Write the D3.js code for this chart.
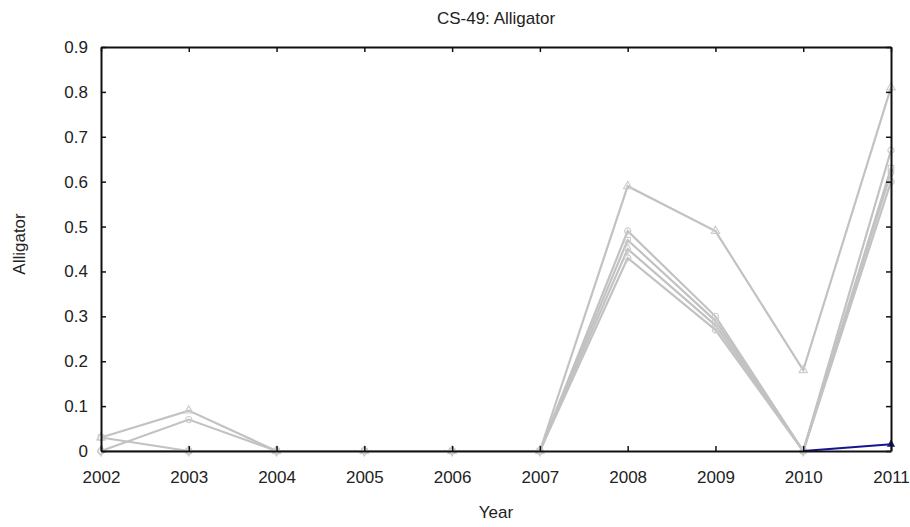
<!DOCTYPE html>
<html>
<head>
<meta charset="utf-8">
<script src="https://cdn.jsdelivr.net/npm/d3@7"></script>
<style>
  body { margin: 0; background: #fff; }
  text { font-family: "Liberation Sans", Arial, sans-serif; fill: #222; }
</style>
</head>
<body>
<div id="chart"></div>
<script>
// years on the x axis
var years = [2002, 2003, 2004, 2005, 2006, 2007, 2008, 2009, 2010, 2011];

// gray series, one value per year
var grayA = [0.03, 0.09, 0, 0, 0, 0, 0.59, 0.49, 0.18, 0.81];
var grayB = [0, 0.07, 0, 0, 0, 0, 0.49, 0.30, 0, 0.67];
var grayC = [0.03, 0, 0, 0, 0, 0, 0.47, 0.29, 0, 0.63];
var grayD = [0, 0, 0, 0, 0, 0, 0.45, 0.28, 0, 0.62];
var grayE = [0, 0, 0, 0, 0, 0, 0.43, 0.27, 0, 0.60];
// blue series, only the last two years
var blueYears = [2010, 2011];
var blueVals = [0, 0.015];

var yTicks = [0, 0.1, 0.2, 0.3, 0.4, 0.5, 0.6, 0.7, 0.8, 0.9];
var yTickLabels = ["0", "0.1", "0.2", "0.3", "0.4", "0.5", "0.6", "0.7", "0.8", "0.9"];

var width = 910, height = 527;
var margin = {top: 47, right: 19, bottom: 76, left: 101};
var fontSize = 17;

var svg = d3.select("#chart").append("svg")
  .attr("width", width)
  .attr("height", height);

var x = d3.scaleLinear()
  .domain([2002, 2011])
  .range([margin.left, width - margin.right]);

var y = d3.scaleLinear()
  .domain([0, 0.9])
  .range([height - margin.bottom, margin.top]);

var line = d3.line()
  .x(function(d) { return x(d[0]); })
  .y(function(d) { return y(d[1]); });

var grays = [grayA, grayB, grayC, grayD, grayE];
var markers = [d3.symbolTriangle, d3.symbolCircle, d3.symbolSquare, d3.symbolDiamond, d3.symbolCircle];

grays.forEach(function(vals, i) {
  var pts = years.map(function(yr, j) { return [yr, vals[j]]; });
  svg.append("path")
    .datum(pts)
    .attr("fill", "none")
    .attr("stroke", "#c2c2c2")
    .attr("stroke-width", 2.2)
    .attr("d", line);
  svg.selectAll(null)
    .data(pts)
    .enter()
    .append("path")
    .attr("transform", function(d) { return "translate(" + x(d[0]) + "," + y(d[1]) + ")"; })
    .attr("d", d3.symbol().type(markers[i]).size(30))
    .attr("fill", "none")
    .attr("stroke", "#cdcdcd")
    .attr("stroke-width", 1.2);
});

var bluePts = blueYears.map(function(yr, j) { return [yr, blueVals[j]]; });
svg.append("path")
  .datum(bluePts)
  .attr("fill", "none")
  .attr("stroke", "#15158f")
  .attr("stroke-width", 2)
  .attr("d", line);
svg.append("path")
  .attr("transform", "translate(" + x(2011) + "," + y(blueVals[1]) + ")")
  .attr("d", d3.symbol().type(d3.symbolTriangle).size(30))
  .attr("fill", "#15158f");

// axes, ticks pointing inward on all four sides
var axBottom = svg.append("g")
  .attr("transform", "translate(0," + (height - margin.bottom) + ")")
  .call(d3.axisBottom(x).tickValues(years).tickFormat(d3.format("d")).tickSizeInner(-5).tickSizeOuter(0).tickPadding(20));
var axTop = svg.append("g")
  .attr("transform", "translate(0," + margin.top + ")")
  .call(d3.axisTop(x).tickValues(years).tickFormat("").tickSizeInner(-5).tickSizeOuter(0));
var axLeft = svg.append("g")
  .attr("transform", "translate(" + margin.left + ",0)")
  .call(d3.axisLeft(y).tickValues(yTicks).tickFormat(function(d, i) { return yTickLabels[i]; })
    .tickSizeInner(-5).tickSizeOuter(0).tickPadding(13));
var axRight = svg.append("g")
  .attr("transform", "translate(" + (width - margin.right) + ",0)")
  .call(d3.axisRight(y).tickValues(yTicks).tickFormat("").tickSizeInner(-5).tickSizeOuter(0));

[axBottom, axTop, axLeft, axRight].forEach(function(g) {
  g.select(".domain").attr("stroke", "#111").attr("stroke-width", 2);
  g.selectAll(".tick line").attr("stroke", "#111").attr("stroke-width", 1.5);
  g.selectAll(".tick text").attr("font-size", fontSize).attr("fill", "#222")
    .style("font-family", "'Liberation Sans', Arial, sans-serif");
});

svg.append("text")
  .attr("x", (margin.left + width - margin.right) / 2)
  .attr("y", 24)
  .attr("text-anchor", "middle")
  .attr("font-size", fontSize)
  .text("CS-49: Alligator");

svg.append("text")
  .attr("x", (margin.left + width - margin.right) / 2)
  .attr("y", 518)
  .attr("text-anchor", "middle")
  .attr("font-size", fontSize)
  .text("Year");

svg.append("text")
  .attr("transform", "translate(25,244) rotate(-90)")
  .attr("text-anchor", "middle")
  .attr("font-size", fontSize)
  .text("Alligator");
</script>
</body>
</html>
